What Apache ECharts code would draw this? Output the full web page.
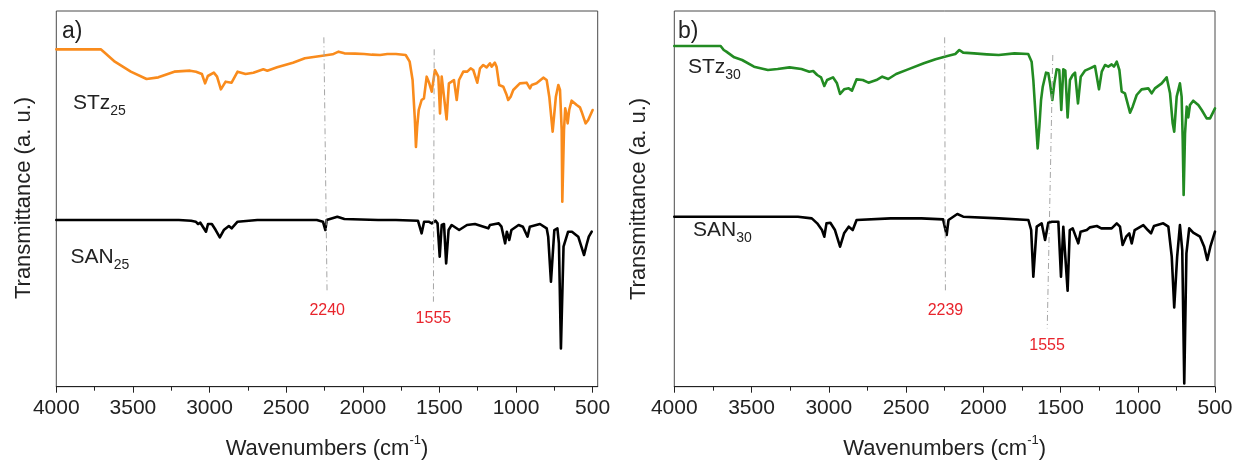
<!DOCTYPE html>
<html><head><meta charset="utf-8">
<script src="https://cdn.jsdelivr.net/npm/echarts@6/dist/echarts.min.js"></script>
<style>html,body{margin:0;padding:0;background:#fff}#c{width:1238px;height:461px}</style>
</head><body><div id="c"></div>
<script>
// ---- data (transmittance in arbitrary units, offset spectra) ----
const xTickValues = [4000,3500,3000,2500,2000,1500,1000,500];
const xMinorValues = [3750,3250,2750,2250,1750,1250,750];

const wnSTz25 = [4000,3850,3710,3680,3618,3514,3411,3334,3230,3127,3088,3075,3050,3029,3011,2972,2951,2926,2895,2856,2817,2765,2714,2649,2623,2559,2456,2378,2275,2197,2158,2120,2050,1991,1940,1887,1840,1784,1720,1694,1675,1660,1653,1645,1635,1616,1601,1583,1566,1550,1529,1507,1496,1485,1475,1453,1438,1420,1405,1387,1372,1344,1318,1296,1279,1253,1235,1214,1192,1170,1159,1138,1127,1110,1083,1061,1051,1035,1018,975,931,909,898,866,822,800,783,761,740,724,713,702,698,687,679,670,663,653,637,604,583,572,546,529,500];
const tSTz25 = [101.2,101.2,101.2,100.0,97.5,94.5,92.3,92.8,94.5,94.8,94.5,94.8,93.8,91.0,93.2,94.2,93.0,89.2,91.5,91.2,94.5,93.8,94.2,95.2,94.8,95.8,97.2,98.5,99.2,99.7,100.5,100.0,99.9,99.8,99.6,99.5,99.8,99.8,99.5,97.5,92.0,80.0,71.9,78.0,83.0,86.0,86.5,93.0,91.0,88.5,95.0,93.0,82.0,93.0,93.5,80.2,91.0,91.5,92.0,86.0,92.0,94.5,94.5,95.5,95.0,91.2,95.5,96.5,95.8,97.0,96.0,97.2,96.0,90.5,90.0,87.5,86.0,87.0,89.0,91.0,91.2,89.5,90.5,91.0,92.7,92.0,87.0,76.5,87.0,90.5,89.0,77.0,55.5,77.0,83.5,81.5,79.0,83.0,85.8,84.5,83.8,82.5,79.0,80.0,83.0];

const wnSAN25 = [4000,3500,3200,3120,3090,3075,3060,3023,3010,2985,2960,2933,2907,2874,2856,2817,2688,2500,2300,2260,2244,2236,2166,2120,1900,1784,1640,1616,1600,1570,1550,1526,1512,1498,1485,1470,1456,1440,1420,1371,1320,1268,1181,1170,1136,1113,1095,1071,1060,1044,1030,983,955,925,910,844,800,790,772,750,730,720,707,690,660,635,594,556,540,525,506];
const tSAN25 = [50.0,50.0,50.0,49.8,49.5,48.8,49.2,46.5,48.8,48.8,47.0,44.8,47.0,48.2,47.5,49.5,50.0,50.0,50.0,49.5,47.0,50.0,51.0,50.3,50.0,50.0,49.8,46.0,49.5,49.5,49.0,49.8,49.0,39.0,48.5,48.8,37.0,47.0,48.5,47.0,48.5,48.8,47.5,48.5,48.8,49.0,48.0,43.0,46.5,44.0,47.0,48.5,48.0,45.0,48.0,48.8,47.5,45.0,31.5,47.0,47.5,43.0,11.5,42.0,46.5,46.5,45.0,39.5,42.5,45.0,46.5];

const wnSTz30 = [4000,3700,3680,3663,3612,3561,3484,3394,3331,3254,3177,3126,3101,3075,3050,3029,3011,2973,2947,2927,2901,2871,2850,2820,2780,2743,2692,2654,2615,2564,2487,2385,2309,2232,2181,2155,2130,2060,1977,1900,1798,1709,1687,1676,1661,1648,1637,1626,1615,1607,1594,1579,1568,1553,1540,1525,1508,1495,1482,1469,1454,1439,1421,1406,1387,1369,1342,1309,1277,1251,1233,1212,1191,1169,1154,1136,1119,1104,1083,1050,1033,1007,975,932,910,889,845,813,791,774,764,748,727,716,709,703,694,683,673,662,641,608,586,554,532,500];
const tSTz30 = [102.2,102.2,101.0,100.5,98.8,98.0,96.0,95.0,95.3,95.8,95.3,94.5,94.7,93.5,92.8,90.2,92.0,92.8,91.0,87.8,89.2,89.5,88.8,92.2,92.0,91.2,92.0,93.0,92.3,93.8,95.2,97.0,98.2,99.2,99.8,101.0,100.2,100.0,99.7,99.5,100.0,99.8,97.5,92.0,81.0,71.5,78.0,86.0,90.0,89.5,94.2,94.0,91.0,86.0,91.0,95.2,95.0,83.0,95.2,94.8,80.8,92.0,93.5,94.2,85.0,93.0,94.8,95.5,96.2,89.2,94.5,96.5,96.0,96.7,96.0,97.5,95.0,88.5,88.0,82.2,84.0,87.5,89.2,89.5,88.0,89.5,91.0,92.8,88.0,79.0,76.5,87.0,91.0,87.0,74.0,57.5,76.0,84.0,80.8,84.5,85.8,84.5,83.0,80.5,80.5,83.5];

const wnSAN30 = [4000,3500,3200,3110,3075,3044,3029,3015,2990,2960,2927,2901,2871,2845,2820,2600,2400,2260,2237,2225,2168,2130,1900,1708,1690,1676,1654,1622,1600,1579,1555,1514,1497,1482,1470,1454,1440,1421,1385,1370,1330,1309,1265,1236,1200,1169,1136,1115,1098,1075,1055,1039,1020,964,935,914,895,835,802,780,764,745,727,712,699,685,667,641,597,570,550,530,500];
const tSAN30 = [51.0,51.0,51.0,50.5,49.0,47.0,45.0,49.0,49.2,47.0,42.0,46.0,48.0,47.0,50.0,50.5,50.5,50.2,45.5,50.0,51.8,51.0,50.5,50.0,47.0,33.0,48.0,49.0,44.0,49.2,49.5,49.5,33.0,48.0,48.2,28.8,47.0,47.5,43.0,46.5,47.0,47.8,48.2,47.5,47.5,47.5,49.0,48.0,42.5,45.0,46.0,43.0,47.0,48.5,47.0,46.0,48.2,49.0,48.0,39.0,23.8,39.0,48.5,41.0,1.0,40.0,47.5,46.2,45.0,42.0,38.0,42.0,46.5];

// reference (dash-dot) lines: [wn top, value top, wn bottom, value bottom, label]
const refLinesA = [[2254,104.8,2233,28.0,'2240'],[1534,101.2,1539,25.5,'1555']];
const refLinesB = [[2250,104.8,2245,28.0,'2239'],[1550,99.5,1586,17.5,'1555']];

// ---- chart ----
const FONT = 'Liberation Sans, Arial, sans-serif';
const TXT = '#222';
const zip = (a,b) => a.map((v,i)=>[v,b[i]]);

function mkLines(refs){
  return {
    silent:true, symbol:['none','none'], animation:false,
    lineStyle:{color:'#a6a6a6', width:1, type:[6,3,1,3]},
    label:{show:true, position:'end', distance:9, color:'#e8242c', fontSize:16, fontFamily:FONT,
           formatter:p=>p.data.lbl},
    data: refs.map(r=>[{coord:[r[0],r[1]], lbl:r[4]},{coord:[r[2],r[3]], lbl:r[4]}])
  };
}
function mainX(grid,min){
  return {gridIndex:grid, type:'value', inverse:true, min:min, max:4000, position:'bottom',
    axisLine:{show:true, onZero:false, lineStyle:{color:TXT, width:1}},
    axisTick:{show:true, inside:false, length:6, customValues:xTickValues, lineStyle:{color:TXT}},
    axisLabel:{show:true, customValues:xTickValues, fontSize:21, color:TXT, fontFamily:FONT, margin:11,
               formatter:v=>String(v)},
    splitLine:{show:false}};
}
function minorX(grid,min){
  return {gridIndex:grid, type:'value', inverse:true, min:min, max:4000, position:'bottom',
    axisLine:{show:false},
    axisTick:{show:true, inside:false, length:4, customValues:xMinorValues, lineStyle:{color:TXT}},
    axisLabel:{show:false}, splitLine:{show:false}};
}
function yAx(grid){
  return {gridIndex:grid, type:'value', min:0, max:112.7, show:true,
    axisLine:{show:false}, axisTick:{show:false}, axisLabel:{show:false}, splitLine:{show:false}};
}
function line(name,x,y,color,xi,yi,extra){
  return Object.assign({name, type:'line', xAxisIndex:xi, yAxisIndex:yi, data:zip(x,y),
    showSymbol:false, symbol:'none', smooth:false, animation:false, silent:true,
    lineStyle:{color, width:2.6, join:'round', cap:'round'}, itemStyle:{color}}, extra||{});
}
const richLbl = {
  m:{fontSize:21, fontFamily:FONT, fill:TXT, lineHeight:30, verticalAlign:'middle'},
  s:{fontSize:14, fontFamily:FONT, fill:TXT, lineHeight:14, verticalAlign:'bottom'}
};
const richTitle = {
  m:{fontSize:22, fontFamily:FONT, fill:TXT, lineHeight:30, verticalAlign:'middle'},
  p:{fontSize:13, fontFamily:FONT, fill:TXT, lineHeight:13, verticalAlign:'top'}
};
function txt(x,y,text,opts){
  return Object.assign({type:'text', x, y, silent:true,
    style:Object.assign({text, fill:TXT, fontFamily:FONT, fontSize:22, align:'left', verticalAlign:'middle'}, opts||{})});
}

const chart = echarts.init(document.getElementById('c'), null, {renderer:'canvas'});
chart.setOption({
  animation:false,
  backgroundColor:'#fff',
  grid:[
    {left:56.3, top:11, width:541.4, height:375.7, show:true, borderColor:'#4a4a4a', borderWidth:1, containLabel:false},
    {left:674.3, top:11, width:540.7, height:375.7, show:true, borderColor:'#4a4a4a', borderWidth:1, containLabel:false}
  ],
  xAxis:[mainX(0,467), minorX(0,467), mainX(1,500), minorX(1,500)],
  yAxis:[yAx(0), yAx(1)],
  series:[
    line('STz25', wnSTz25, tSTz25, '#f98b1c', 0, 0, {markLine:mkLines(refLinesA)}),
    line('SAN25', wnSAN25, tSAN25, '#000000', 0, 0),
    line('STz30', wnSTz30, tSTz30, '#228b22', 2, 1, {markLine:mkLines(refLinesB)}),
    line('SAN30', wnSAN30, tSAN30, '#000000', 2, 1)
  ],
  graphic:[
    txt(62, 31.7, 'a)', {fontSize:23}),
    txt(678, 31.7, 'b)', {fontSize:23}),
    txt(73, 103, '{m|STz}{s|25}', {rich:richLbl}),
    txt(70.5, 257, '{m|SAN}{s|25}', {rich:richLbl}),
    txt(688, 67, '{m|STz}{s|30}', {rich:richLbl}),
    txt(693, 230, '{m|SAN}{s|30}', {rich:richLbl}),
    Object.assign(txt(24, 198, 'Transmittance (a. u.)', {align:'center'}), {rotation:Math.PI/2}),
    Object.assign(txt(639, 199, 'Transmittance (a. u.)', {align:'center'}), {rotation:Math.PI/2}),
    txt(327, 449, '{m|Wavenumbers (cm}{p|-1}{m|)}', {align:'center', rich:richTitle}),
    txt(944.7, 449, '{m|Wavenumbers (cm}{p|-1}{m|)}', {align:'center', rich:richTitle})
  ]
});
</script>
</body></html>
